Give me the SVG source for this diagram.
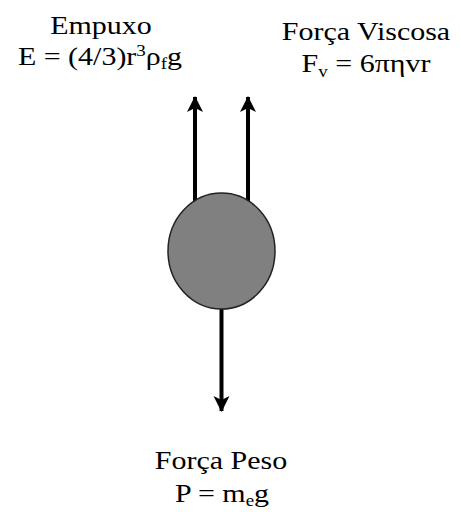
<svg xmlns="http://www.w3.org/2000/svg" width="460" height="512" viewBox="0 0 460 512">
  <style>
    text { font-family: 'Liberation Serif', 'Times New Roman', serif; font-size: 30px; fill: #000; text-anchor: middle; }
    .sm { font-size: 19px; }
    .arrow { stroke: #000; stroke-width: 4; fill: none; marker-end: url(#head); }
  </style>
  <defs>
    <marker id="head" markerUnits="userSpaceOnUse" markerWidth="18" markerHeight="18" viewBox="0 0 18 18" refX="15" refY="9" orient="auto">
      <path d="M0,1 L16,9 L0,17 L4,9 Z" fill="#000"/>
    </marker>
  </defs>
  <rect width="460" height="512" fill="#fff"/>
  <g id="connectors">
    <line class="arrow" x1="195" y1="206" x2="195" y2="97"/>
    <line class="arrow" x1="248" y1="206" x2="248" y2="97"/>
    <line class="arrow" x1="221.5" y1="300" x2="221.5" y2="411"/>
  </g>
  <g id="sphere">
    <ellipse cx="221.5" cy="251" rx="53.5" ry="58" fill="#808080" stroke="#222" stroke-width="1.5"/>
  </g>
  <g id="empuxo">
    <text transform="matrix(1,0,0,0.83,101,34)">Empuxo</text>
    <text transform="matrix(1,0,0,0.83,100,65)">E = (4/3)r<tspan class="sm" dy="-11">3</tspan><tspan dy="11">ρ</tspan><tspan class="sm" dy="5">f</tspan><tspan dy="-5">g</tspan></text>
  </g>
  <g id="viscosa">
    <text transform="matrix(1,0,0,0.83,366,40)">Força Viscosa</text>
    <text transform="matrix(1,0,0,0.83,366,72)">F<tspan class="sm" dy="6">v</tspan><tspan dy="-6"> = 6πηvr</tspan></text>
  </g>
  <g id="peso">
    <text transform="matrix(1,0,0,0.83,221,469)">Força Peso</text>
    <text transform="matrix(1,0,0,0.83,222,502)">P = m<tspan class="sm" dy="5">e</tspan><tspan dy="-5">g</tspan></text>
  </g>
</svg>
